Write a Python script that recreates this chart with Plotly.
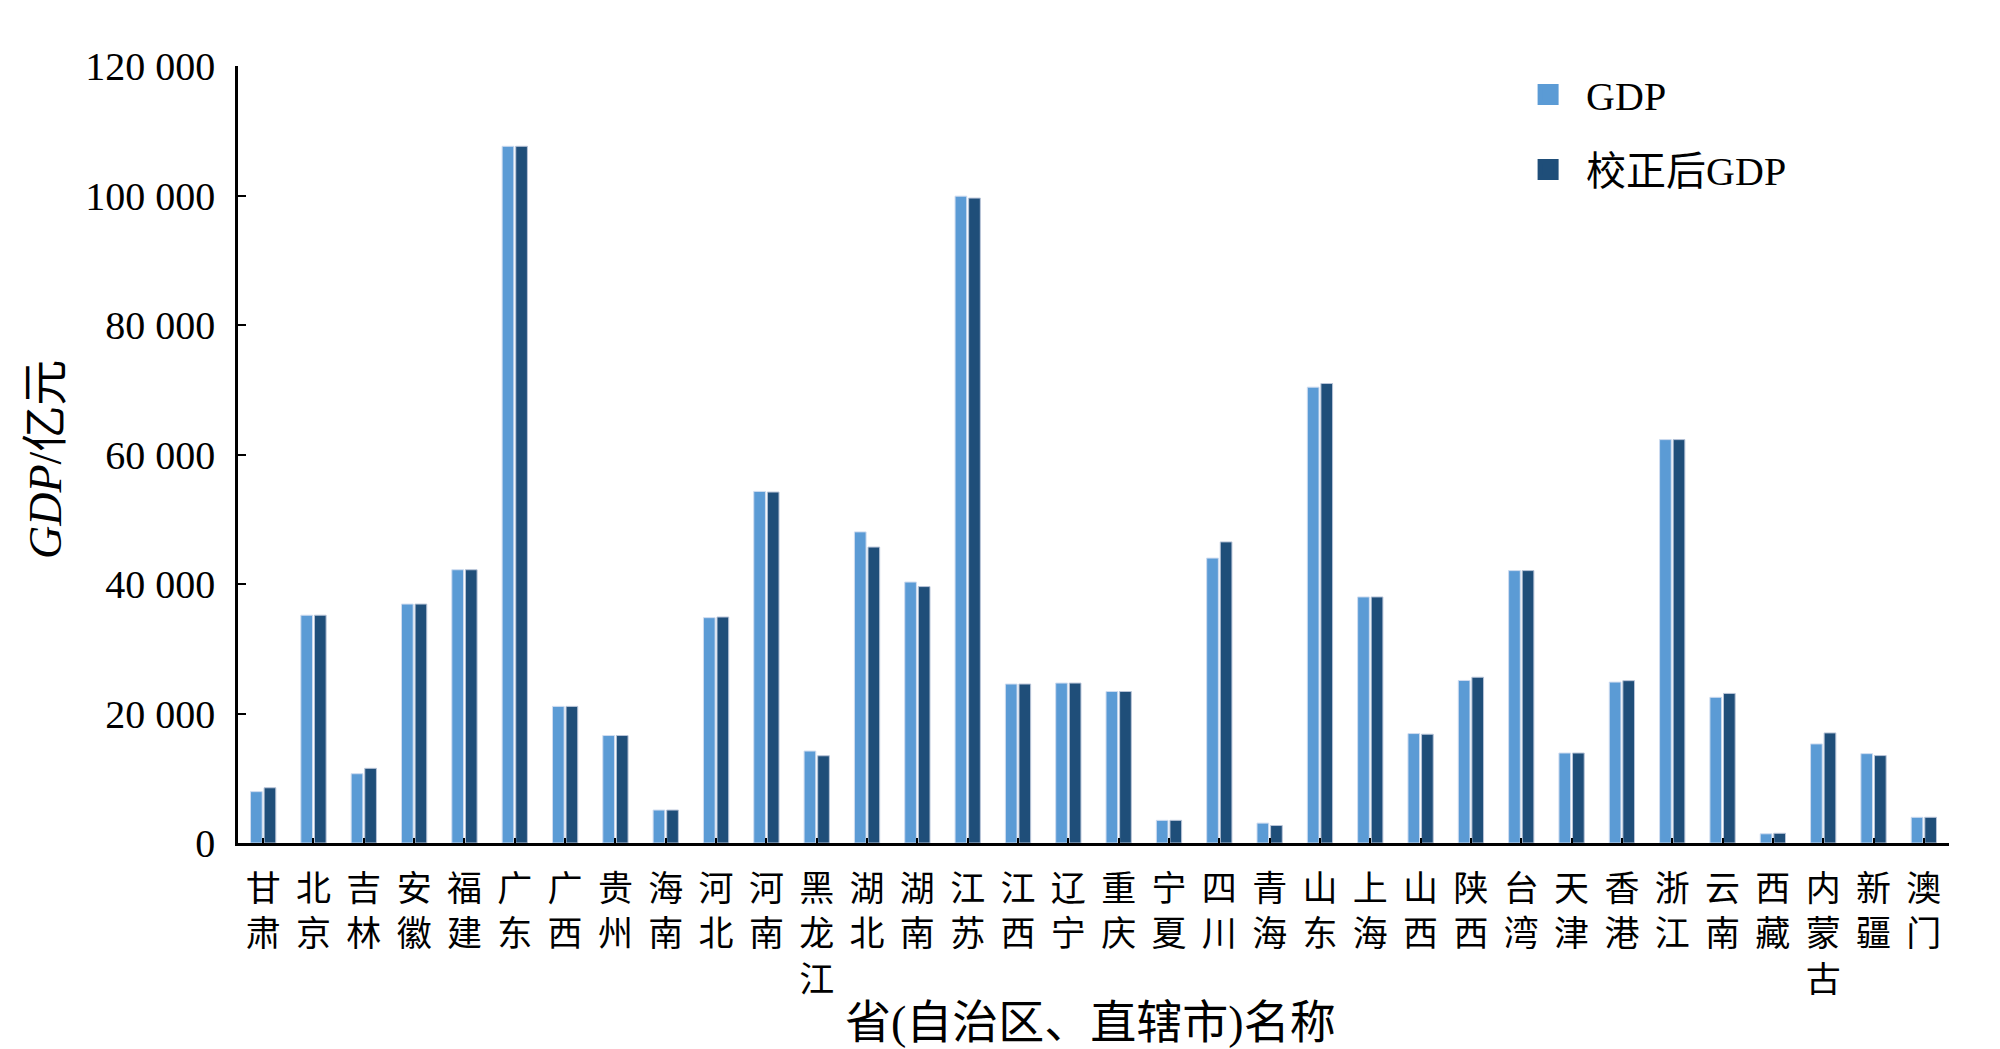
import plotly.graph_objects as go

categories = ["甘肃", "北京", "吉林", "安徽", "福建", "广东", "广西", "贵州", "海南", "河北", "河南",
              "黑龙江", "湖北", "湖南", "江苏", "江西", "辽宁", "重庆", "宁夏", "四川", "青海", "山东",
              "上海", "山西", "陕西", "台湾", "天津", "香港", "浙江", "云南", "西藏", "内蒙古", "新疆", "澳门"]

gdp = [7930, 35180, 10700, 36900, 42200, 107600, 21100, 16600, 5090, 34800, 54300,
       14200, 48050, 40300, 99900, 24550, 24700, 23400, 3500, 44000, 3070, 70400,
       38000, 16900, 25100, 42070, 13900, 24850, 62300, 22500, 1420, 15300, 13800, 3970]

gdp_corrected = [8530, 35180, 11530, 36900, 42200, 107600, 21100, 16600, 5090, 34900, 54200,
                 13470, 45700, 39600, 99600, 24550, 24700, 23400, 3500, 46500, 2700, 70960,
                 38000, 16800, 25600, 42070, 13900, 25070, 62300, 23100, 1500, 17000, 13500, 3970]

y_tickvals = [0, 20000, 40000, 60000, 80000, 100000, 120000]
y_ticktext = ["0", "20 000", "40 000", "60 000", "80 000", "100 000", "120 000"]

series_names = ["GDP", "校正后GDP"]
series_colors = ["#5B9BD5", "#1F4E79"]

x_ticktext = ["<br>".join(list(c)) for c in categories]

FONT = "Liberation Serif, Noto Sans CJK SC"

fig = go.Figure()
fig.add_trace(go.Bar(
    x=categories, y=gdp, name=series_names[0], showlegend=False,
    marker=dict(color=series_colors[0], line=dict(color="#cfdcf0", width=1)),
))
fig.add_trace(go.Bar(
    x=categories, y=gdp_corrected, name=series_names[1], showlegend=False,
    marker=dict(color=series_colors[1], line=dict(color="#b8c4d8", width=1)),
))
# legend entries with square symbols
for i, (nm, col) in enumerate(zip(series_names, series_colors)):
    fig.add_trace(go.Scatter(
        x=[None], y=[None], mode="markers", name="\u00a0\u2009" + nm, legendgroup=f"g{i}",
        marker=dict(symbol="square", size=16, color=col, line=dict(color=col, width=5)),
        showlegend=True,
    ))

fig.update_layout(
    width=2000, height=1049,
    margin=dict(l=238, r=51, t=66, b=206),
    paper_bgcolor="white", plot_bgcolor="white",
    barmode="group", bargap=0.46, bargroupgap=0.14,
    font=dict(family=FONT, color="black", size=36),
    showlegend=True,
    legend=dict(
        x=0.754, y=1.005, xanchor="left", yanchor="top",
        font=dict(family=FONT, size=40, color="black"),
        tracegroupgap=20, bgcolor="rgba(0,0,0,0)", itemsizing="trace",
    ),
    xaxis=dict(
        tickmode="array", tickvals=categories, ticktext=x_ticktext,
        tickangle=0, tickfont=dict(family=FONT, size=35),
        showline=True, linecolor="black", linewidth=2.5,
        ticks="inside", ticklen=5, tickwidth=2, tickcolor="black",
        ticklabelstandoff=13,
        showgrid=False, zeroline=False,
        range=[-0.5, len(categories) - 0.5],
    ),
    yaxis=dict(
        range=[0, 120000], tickmode="array", tickvals=y_tickvals, ticktext=y_ticktext,
        tickfont=dict(family=FONT, size=40),
        showline=True, linecolor="black", linewidth=2.5,
        ticks="inside", ticklen=8, tickwidth=2, tickcolor="black",
        ticklabelstandoff=12,
        showgrid=False, zeroline=False,
    ),
    annotations=[
        dict(text="<i>GDP</i>/亿元", xref="paper", yref="paper", x=-0.1122, y=0.493,
             xanchor="center", yanchor="middle", textangle=-90, showarrow=False,
             font=dict(family=FONT, size=46, color="black")),
        dict(text="省(自治区、直辖市)名称", xref="paper", yref="paper", x=0.4985, y=-0.2305,
             xanchor="center", yanchor="middle", showarrow=False,
             font=dict(family=FONT, size=46, color="black")),
    ],
)

fig.write_html("out.html", config={"displayModeBar": False},
               post_script="document.body.style.margin='0';document.body.style.overflow='hidden';")
